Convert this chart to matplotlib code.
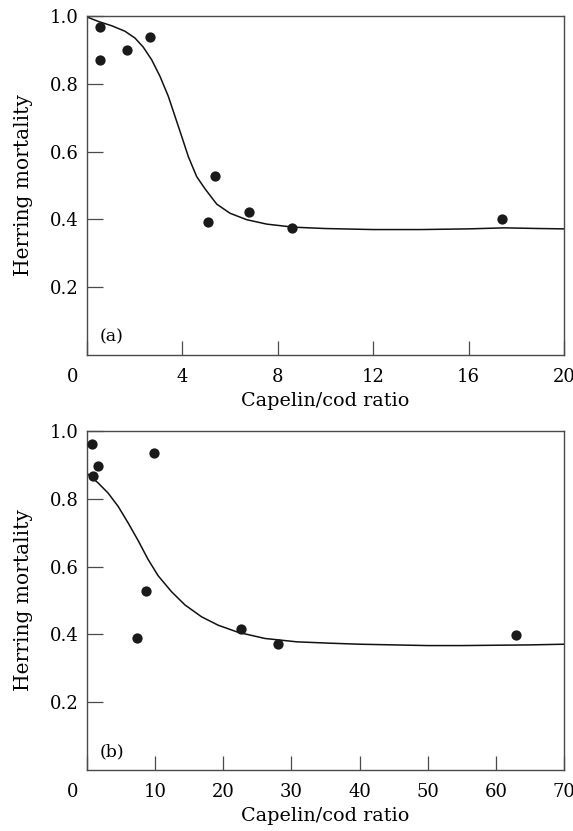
import matplotlib
matplotlib.use("Agg")
import matplotlib.pyplot as plt
from matplotlib.transforms import ScaledTranslation

plt.rcParams['font.family'] = ['DejaVu Serif']

# panel (a): capelin/cod ratio, scale 0-20
a_ratio = [0.55, 0.55, 1.66, 2.64, 5.08, 5.37, 6.79, 8.60, 17.40]
a_mort = [0.967, 0.871, 0.900, 0.937, 0.391, 0.528, 0.422, 0.376, 0.402]
a_fit_x = [0, 0.47, 1.04, 1.59, 2.01, 2.36, 2.71, 3.06, 3.41, 3.69, 3.97,
           4.25, 4.60, 4.95, 5.44, 6.0, 6.70, 7.54, 8.66, 10, 12, 14, 16,
           17.5, 19, 20]
a_fit_y = [0.997, 0.984, 0.971, 0.955, 0.935, 0.908, 0.871, 0.822, 0.763,
           0.704, 0.645, 0.585, 0.526, 0.490, 0.445, 0.418, 0.399, 0.386,
           0.377, 0.373, 0.370, 0.370, 0.372, 0.375, 0.373, 0.372]
a_xticks = [0, 4, 8, 12, 16, 20]

# panel (b): capelin/cod ratio, scale 0-70
b_ratio = [0.74, 0.88, 1.62, 9.85, 8.63, 7.35, 22.55, 28.1, 63.0]
b_mort = [0.963, 0.867, 0.897, 0.934, 0.528, 0.389, 0.417, 0.373, 0.398]
b_fit_x = [0, 1.62, 3.09, 4.56, 6.03, 7.5, 8.97, 10.44, 12.4, 14.37, 16.8,
           19.26, 22.2, 26.1, 30.8, 35.7, 40, 45, 50, 55, 60, 65, 70]
b_fit_y = [0.875, 0.847, 0.817, 0.778, 0.729, 0.677, 0.621, 0.573, 0.526,
           0.487, 0.452, 0.427, 0.406, 0.388, 0.378, 0.374, 0.371, 0.369,
           0.367, 0.367, 0.368, 0.369, 0.371]
b_xticks = [0, 10, 20, 30, 40, 50, 60, 70]

yticks = [0.2, 0.4, 0.6, 0.8, 1.0]

fig = plt.figure(figsize=(5.73, 8.31), dpi=100)
ax_a = fig.add_axes([0.1518, 0.5728, 0.8325, 0.408])
ax_b = fig.add_axes([0.1518, 0.0734, 0.8325, 0.408])

panels = [
    (ax_a, a_ratio, a_mort, a_fit_x, a_fit_y, a_xticks, 20, "(a)"),
    (ax_b, b_ratio, b_mort, b_fit_x, b_fit_y, b_xticks, 70, "(b)"),
]

spine_col = "#4a4a4a"
for ax, xs, ys, fx, fy, xt, xmax, tag in panels:
    ax.plot(fx, fy, color="#111111", lw=1.1, zorder=2,
            solid_joinstyle="round")
    ax.plot(xs, ys, "o", color="#1a1a1a", ms=7.4, mew=0, zorder=3)
    ax.set_xlim(0, xmax)
    ax.set_ylim(0, 1.0)
    ax.set_xticks(xt)
    ax.set_xticklabels([str(v) for v in xt])
    ax.set_yticks(yticks)
    ax.set_yticklabels(["%.1f" % v for v in yticks])
    ax.tick_params(axis="x", direction="in", length=10, width=0.9,
                   color=spine_col, pad=9, labelsize=13)
    ax.tick_params(axis="y", direction="in", length=11.5, width=0.9,
                   color=spine_col, pad=6, labelsize=13)
    for s in ax.spines.values():
        s.set_color(spine_col)
        s.set_linewidth(1.0)
    ax.set_xlabel("Capelin/cod ratio", fontsize=13.8, labelpad=5)
    ax.set_ylabel("Herring mortality", fontsize=14.5, labelpad=12)
    ax.text(0.027, 0.053, tag, transform=ax.transAxes, fontsize=12.5,
            ha="left", va="center")
    # the "0" label sits to the left of the axis in the original
    lab0 = ax.xaxis.get_major_ticks()[0].label1
    lab0.set_transform(lab0.get_transform() +
                       ScaledTranslation(-0.14, 0, fig.dpi_scale_trans))

fig.savefig("out.png", dpi=100)
